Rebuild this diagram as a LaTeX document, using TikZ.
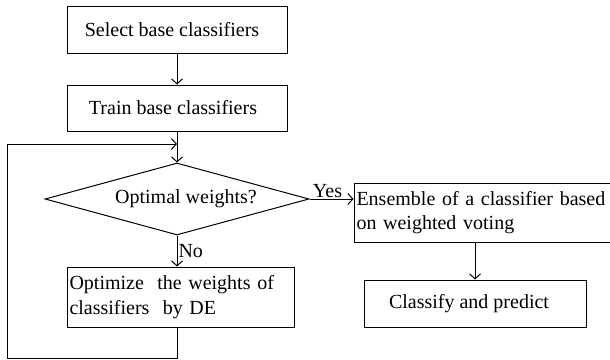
\documentclass[tikz,border=0pt]{standalone}
\usepackage{fontspec}
\setmainfont{Liberation Serif}
\usetikzlibrary{arrows.meta,positioning,shapes.geometric,calc}

\begin{document}
\begin{tikzpicture}[
    x=1pt, y=-1pt,
    every node/.style={font=\fontsize{20}{24.5}\selectfont},
    box/.style={rectangle, draw, line width=1pt, inner sep=2pt},
    decision/.style={diamond, draw, line width=1pt, inner sep=0pt, aspect=3.6,
                     minimum width=264pt, minimum height=72pt},
    arrow/.style={-{Straight Barb[length=5pt,width=11pt]}, line width=1pt},
    line/.style={line width=1pt}
]
\useasboundingbox (0,0) rectangle (610,359);
\node[box, minimum width=220pt, minimum height=47pt] (sel) at (177, 29.5) {Select base classifiers\hspace*{10pt}};
\node[box, minimum width=220pt, minimum height=46pt] (trn) at (177, 108) {Train base classifiers\hspace*{8pt}};
\node[decision] (opt) at (177, 199) {\hspace*{18pt}Optimal weights?};
\node[box, minimum width=227pt, minimum height=60pt, text width=222pt, align=left] (de) at (180.5, 297)
    {Optimize\ \ the weights of\\classifiers\ \ by DE};
\node[box, minimum width=266pt, minimum height=59pt, text width=261pt, align=left] (ens) at (487, 212.5)
    {Ensemble of a classifier based\\on weighted voting};
\node[box, minimum width=222pt, minimum height=47pt] (cls) at (475, 303.5) {Classify and predict\hspace*{12pt}};
\coordinate (lp) at (177, 144);
\coordinate (bl) at (7, 358);

\draw[arrow] (sel) -- (trn);
\draw[arrow] (trn) -- (opt);
\draw[arrow] (opt.south) -- node[right, inner sep=1pt] {No} (opt.south |- de.north);
\draw[arrow] (opt.east) -- node[above, inner sep=1pt, xshift=-4pt] {Yes} (opt.east -| ens.west);
\draw[arrow] (cls.north |- ens.south) -- (cls.north);
\draw[arrow] (opt.south |- de.south) |- (bl) |- (lp);
\end{tikzpicture}
\end{document}
